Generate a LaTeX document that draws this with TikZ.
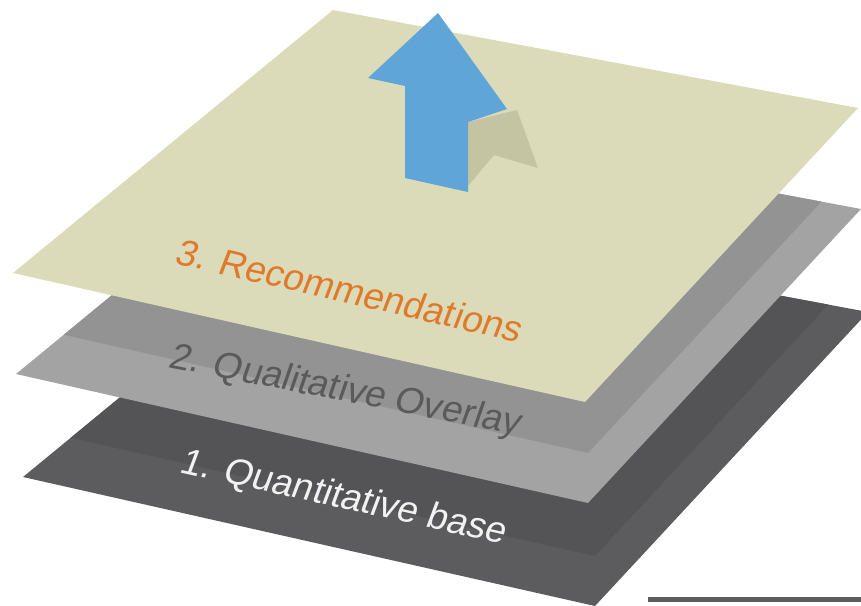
\documentclass[tikz,border=0pt]{standalone}
\usepackage{fontspec}
\setmainfont{Liberation Sans}
\usetikzlibrary{positioning}

\definecolor{paper}{HTML}{DCDBB9}
\definecolor{paperdark}{HTML}{C5C4A2}
\definecolor{greyband}{HTML}{A3A3A3}
\definecolor{greycore}{HTML}{939393}
\definecolor{darkband}{HTML}{5C5C5E}
\definecolor{darkcore}{HTML}{545456}
\definecolor{upblue}{HTML}{5FA5D8}
\definecolor{recorange}{HTML}{DF7A2C}
\definecolor{qualgrey}{HTML}{5A5A5C}

% one sheet of the stack
\newcommand{\plate}{(333,10) -- (858,108) -- (585,402) -- (13,273) -- cycle}

\begin{document}
\begin{tikzpicture}[
  x=1pt, y=-1pt,
  sheettext/.style={anchor=base west, inner sep=0pt, font=\fontsize{37}{40}\selectfont},
  rule/.style={line width=5pt, draw=darkband}
]
\useasboundingbox (0,0) rectangle (861,605);
\clip (0,0) rectangle (861,605);

% 1. bottom sheet
\begin{scope}[shift={(10,204)}]
  \fill[darkband] \plate;
  \begin{scope}
    \clip \plate;
    \fill[darkcore, shift={(0,-50)}] \plate;
  \end{scope}
\end{scope}
\node[sheettext, text=white!95!black, rotate=-12.5, xslant=0.14] (quant) at (178,472) {1. Quantitative base};

% 2. middle sheet
\begin{scope}[shift={(3,101)}]
  \fill[greyband] \plate;
  \begin{scope}
    \clip \plate;
    \fill[greycore, shift={(0,-50)}] \plate;
  \end{scope}
\end{scope}
\node[sheettext, text=qualgrey, rotate=-11, xslant=0.14] (qual) at (167,367) {2. Qualitative Overlay};

% 3. top sheet with the arrow
\fill[paper] \plate;
\node[sheettext, text=recorange, rotate=-13, xslant=0.14] (rec) at (173,263) {3. Recommendations};

\fill[paperdark] (468,122) -- (517,110) -- (538,168) -- (494,155) -- (468,186) -- cycle;
\fill[upblue] (438,13) -- (507,109) -- (468,122) -- (468,192) -- (405,178) -- (405,86) -- (368,78) -- cycle;

\draw[rule] (648,599) -- (861,599);

\end{tikzpicture}
\end{document}
